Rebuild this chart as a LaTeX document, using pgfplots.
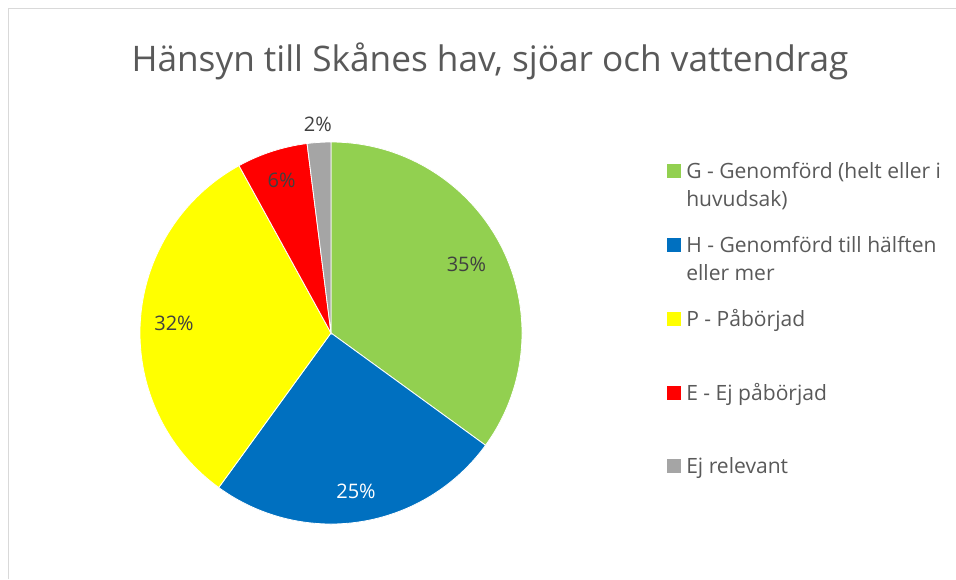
\documentclass[border=0pt]{standalone}
\usepackage{pgfplots}
\usepackage{pgfplotstable}
\pgfplotsset{compat=1.18}
\usepackage{fontspec}
\setmainfont{Open Sans}
\definecolor{cG}{HTML}{92D050}
\definecolor{cH}{HTML}{0070C0}
\definecolor{cP}{HTML}{FFFF00}
\definecolor{cE}{HTML}{FF0000}
\definecolor{cR}{HTML}{A5A5A5}
\definecolor{ctitle}{HTML}{595959}
\definecolor{clab}{HTML}{404040}
\definecolor{cborder}{HTML}{D9D9D9}

\pgfplotstableread{
label value
G 35
H 25
P 32
E 6
R 2
}\piedata

\begin{document}
\begin{tikzpicture}
\pgfplotstablegetelem{0}{value}\of\piedata \let\vA\pgfplotsretval
\pgfplotstablegetelem{1}{value}\of\piedata \let\vB\pgfplotsretval
\pgfplotstablegetelem{2}{value}\of\piedata \let\vC\pgfplotsretval
\pgfplotstablegetelem{3}{value}\of\piedata \let\vD\pgfplotsretval
\pgfplotstablegetelem{4}{value}\of\piedata \let\vE\pgfplotsretval
\pgfmathsetmacro\aO{90}
\pgfmathsetmacro\aA{\aO-3.6*\vA}
\pgfmathsetmacro\aB{\aA-3.6*\vB}
\pgfmathsetmacro\aC{\aB-3.6*\vC}
\pgfmathsetmacro\aD{\aC-3.6*\vD}
\pgfmathsetmacro\aE{\aD-3.6*\vE}
\pgfmathsetmacro\mA{(\aO+\aA)/2}
\pgfmathsetmacro\mB{(\aA+\aB)/2}
\pgfmathsetmacro\mC{(\aB+\aC)/2}
\pgfmathsetmacro\mD{(\aC+\aD)/2}
\pgfmathsetmacro\mE{(\aD+\aE)/2}
\def\R{143.25pt}
\useasboundingbox (0,0) rectangle (717pt,434.25pt);
\begin{axis}[
  at={(0,0)}, anchor=south west,
  scale only axis, width=717pt, height=434.25pt,
  xmin=0, xmax=956, ymin=0, ymax=579, y dir=reverse,
  hide axis, clip=false,
]
% border
\draw[cborder, line width=1.4pt] (axis cs:8.5,579) -- (axis cs:8.5,8.5) -- (axis cs:956,8.5);
% title
\node[anchor=base, text=ctitle, font=\fontsize{26.4}{30}\selectfont] at (axis cs:490,71) {Hänsyn till Skånes hav, sjöar och vattendrag};
% slices
\fill[cG, draw=white, line width=0.6pt] (axis cs:331,333) -- ++(\aO:\R) arc[start angle=\aO, end angle=\aA, radius=\R] -- cycle;
\fill[cH, draw=white, line width=0.6pt] (axis cs:331,333) -- ++(\aA:\R) arc[start angle=\aA, end angle=\aB, radius=\R] -- cycle;
\fill[cP, draw=white, line width=0.6pt] (axis cs:331,333) -- ++(\aB:\R) arc[start angle=\aB, end angle=\aC, radius=\R] -- cycle;
\fill[cE, draw=white, line width=0.6pt] (axis cs:331,333) -- ++(\aC:\R) arc[start angle=\aC, end angle=\aD, radius=\R] -- cycle;
\fill[cR, draw=white, line width=0.6pt] (axis cs:331,333) -- ++(\aD:\R) arc[start angle=\aD, end angle=\aE, radius=\R] -- cycle;
% data labels
\path (axis cs:331,333) ++(\mA:114pt) node[text=clab, font=\fontsize{15}{18}\selectfont] {\vA\%};
\path (axis cs:331,333) ++(\mB:120pt) node[text=white, font=\fontsize{15}{18}\selectfont] {\vB\%};
\path (axis cs:331,333) ++(\mC:118pt) node[text=clab, font=\fontsize{15}{18}\selectfont] {\vC\%};
\path (axis cs:331,333) ++(\mD:120pt) node[text=clab, font=\fontsize{15}{18}\selectfont] {\vD\%};
\path (axis cs:331,333) ++(\mE:157pt) node[text=clab, font=\fontsize{15}{18}\selectfont] {\vE\%};
% legend
\fill[cG] (axis cs:667,164) rectangle (axis cs:681,178);
\fill[cH] (axis cs:667,238) rectangle (axis cs:681,252);
\fill[cP] (axis cs:667,312) rectangle (axis cs:681,326);
\fill[cE] (axis cs:667,386) rectangle (axis cs:681,400);
\fill[cR] (axis cs:667,459) rectangle (axis cs:681,473);
\begin{scope}[every node/.style={anchor=base west, text=ctitle, font=\fontsize{15.8}{19}\selectfont, inner sep=0pt}]
\node at (axis cs:686,178) {G - Genomförd (helt eller i};
\node at (axis cs:686,206.5) {huvudsak)};
\node at (axis cs:686,252) {H - Genomförd till hälften};
\node at (axis cs:686,280.5) {eller mer};
\node at (axis cs:686,326) {P - Påbörjad};
\node at (axis cs:686,400) {E - Ej påbörjad};
\node at (axis cs:686,473) {Ej relevant};
\end{scope}
\end{axis}
\end{tikzpicture}
\end{document}
